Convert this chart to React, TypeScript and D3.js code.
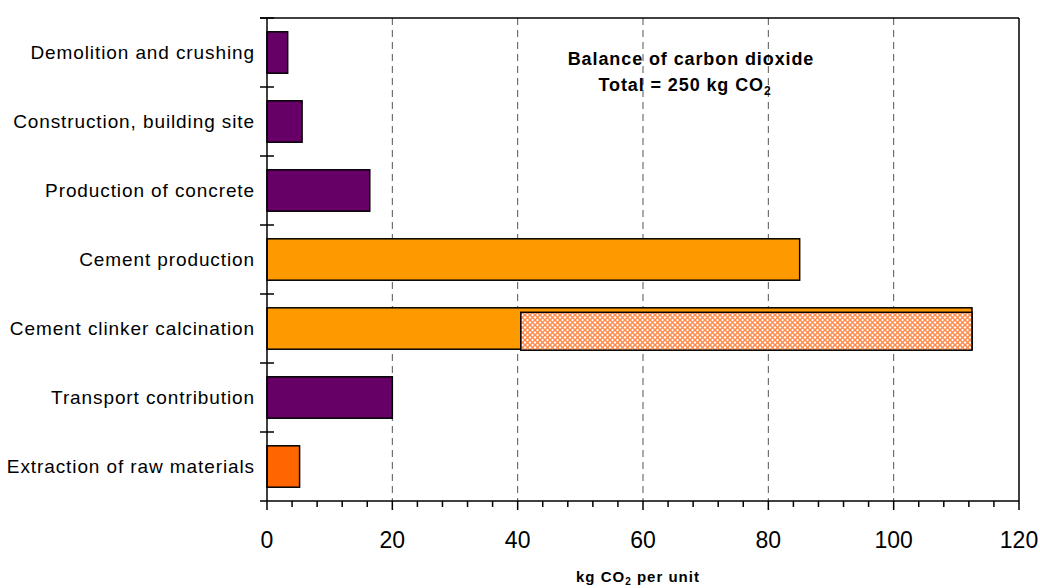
import React from "react";
import * as d3 from "d3";

const categories = [
  "Demolition and crushing",
  "Construction, building site",
  "Production of concrete",
  "Cement production",
  "Cement clinker calcination",
  "Transport contribution",
  "Extraction of raw materials",
];
const values = [3.3, 5.6, 16.4, 85, 112.5, 20, 5.2];
const barColors = ["#660066", "#660066", "#660066", "#FF9900", "#FF9900", "#660066", "#FF6600"];
// hatched overlay segment on the calcination bar
const hatchCategory = "Cement clinker calcination";
const hatchStart = 40.5;
const hatchEnd = 112.5;
const xTicks = [0, 20, 40, 60, 80, 100, 120];
const minorTicks = d3.range(0, 121, 4);
const gridTicks = [20, 40, 60, 80, 100];

const W = 1040;
const H = 588;
const left = 267;
const right = 1019;
const top = 18;
const bottom = 501;
const FONT = "Liberation Sans, Arial, sans-serif";

export default function App() {
  const x = d3.scaleLinear().domain([0, 120]).range([left, right]);
  const y = d3.scaleBand<string>().domain(categories).range([top, bottom]).paddingInner(0.4).paddingOuter(0.2);
  const band = d3.scaleBand<string>().domain(categories).range([top, bottom]);
  const bw = y.bandwidth();

  return (
    <svg width={W} height={H} style={{ position: "absolute", left: 0, top: 0, background: "#fff" }}>
      <defs>
        <pattern id="hatch" width="5" height="5" patternUnits="userSpaceOnUse">
          <rect width="5" height="5" fill="#ffffff" />
          <path d="M0,0 L5,5 M5,0 L0,5" stroke="#FF8A4A" strokeWidth="1.5" />
        </pattern>
      </defs>
      <rect x={0} y={0} width={W} height={H} fill="#fff" />
      {/* grid */}
      {gridTicks.map((t) => (
        <line key={t} x1={x(t)} x2={x(t)} y1={top} y2={bottom} stroke="#555" strokeWidth={1} strokeDasharray="7,5" />
      ))}
      {/* frame top & right */}
      <line x1={left - 7} x2={right} y1={top} y2={top} stroke="#000" strokeWidth={1.5} />
      <line x1={right} x2={right} y1={top} y2={bottom} stroke="#000" strokeWidth={1.5} />
      {/* bars */}
      {categories.map((c, i) => (
        <rect key={c} x={x(0)} y={y(c)} width={x(values[i]) - x(0)} height={bw} fill={barColors[i]} stroke="#000" strokeWidth={1.5} />
      ))}
      <rect
        x={x(hatchStart)}
        y={(y(hatchCategory) as number) + 4.5}
        width={x(hatchEnd) - x(hatchStart)}
        height={bw - 3.5}
        fill="url(#hatch)"
        stroke="#000"
        strokeWidth={1.5}
      />
      {/* y axis */}
      <line x1={left} x2={left} y1={top} y2={bottom} stroke="#000" strokeWidth={1.5} />
      {categories.map((c) => (
        <line key={"t" + c} x1={left - 7} x2={left + 7} y1={band(c)} y2={band(c)} stroke="#000" strokeWidth={1.5} />
      ))}
      {categories.map((c) => (
        <text
          key={"l" + c}
          x={255}
          y={(y(c) as number) + bw / 2}
          dy="0.35em"
          textAnchor="end"
          fontFamily={FONT}
          fontSize={19}
          letterSpacing={0.9}
          fill="#000"
        >
          {c}
        </text>
      ))}
      {/* x axis */}
      <line x1={left - 7} x2={right} y1={bottom} y2={bottom} stroke="#000" strokeWidth={1.5} />
      {minorTicks.map((t) => (
        <line key={"m" + t} x1={x(t)} x2={x(t)} y1={bottom} y2={bottom + (t % 20 === 0 ? 9 : 6)} stroke="#000" strokeWidth={1.5} />
      ))}
      {xTicks.map((t) => (
        <text key={"x" + t} x={x(t)} y={548} textAnchor="middle" fontFamily={FONT} fontSize={23} fill="#000">
          {t}
        </text>
      ))}
      <text x={638} y={582} textAnchor="middle" fontFamily={FONT} fontSize={15} fontWeight="bold" letterSpacing={1} fill="#000">
        kg CO<tspan fontSize={10} dy={3}>2</tspan>
        <tspan dy={-3}> per unit</tspan>
      </text>
      {/* title */}
      <text x={691} y={65} textAnchor="middle" fontFamily={FONT} fontSize={18} fontWeight="bold" letterSpacing={0.9} fill="#000">
        Balance of carbon dioxide
      </text>
      <text x={685} y={91} textAnchor="middle" fontFamily={FONT} fontSize={18} fontWeight="bold" letterSpacing={0.9} fill="#000">
        Total = 250 kg CO<tspan fontSize={12} dy={4}>2</tspan>
      </text>
    </svg>
  );
}
